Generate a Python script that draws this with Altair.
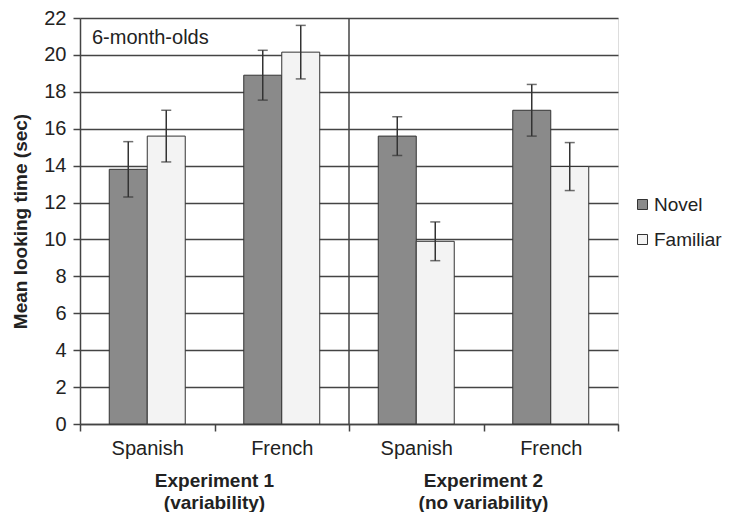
import altair as alt
import pandas as pd

# ---- data ----
categories = ["Spanish|1", "French|1", "Spanish|2", "French|2"]
novel = [13.8, 18.9, 15.6, 17.0]
familiar = [15.6, 20.15, 9.9, 13.95]
novel_err = [1.5, 1.35, 1.05, 1.4]
familiar_err = [1.4, 1.45, 1.05, 1.3]
series = ["Novel", "Familiar"]
group_labels = ["Experiment 1\n(variability)", "Experiment 2\n(no variability)"]
group_anchor = ["French|1", "French|2"]
y_ticks = list(range(0, 23, 2))

rows = []
for i, c in enumerate(categories):
    rows.append({"cat": c, "series": "Novel", "value": novel[i],
                 "lo": novel[i] - novel_err[i], "hi": novel[i] + novel_err[i]})
    rows.append({"cat": c, "series": "Familiar", "value": familiar[i],
                 "lo": familiar[i] - familiar_err[i], "hi": familiar[i] + familiar_err[i]})
df = pd.DataFrame(rows)

W, H = 538, 406
FONT = "Liberation Sans"
DARK = "#444444"
TXT = "#222222"

xscale = alt.Scale(domain=categories, paddingInner=0, paddingOuter=0)
xoff_scale = alt.Scale(domain=series, paddingInner=0, paddingOuter=0.77)
yscale = alt.Scale(domain=[0, 22], nice=False)

x_axis = alt.Axis(labelExpr="split(datum.label, '|')[0]", labelAngle=0,
                  tickBand="extent", tickSize=7, tickColor=DARK, tickWidth=1.5,
                  domainColor=DARK, domainWidth=1.5, labelFontSize=20,
                  labelFont=FONT, labelColor=TXT, labelPadding=7, grid=False)
y_axis = alt.Axis(values=y_ticks, tickSize=7, tickColor=DARK, tickWidth=1.5,
                  domainColor=DARK, domainWidth=1.5, gridColor=DARK,
                  gridWidth=1.3, labelFontSize=20, labelFont=FONT,
                  labelColor=TXT, labelPadding=7, labelOverlap=False,
                  titleFont=FONT, titleFontSize=19, titleFontWeight="bold",
                  titleColor=TXT, titlePadding=13)
YTITLE = "Mean looking time (sec)"


def xenc(**kw):
    return alt.X("cat:N", scale=xscale, sort=categories, title=None, axis=x_axis, **kw)


def yenc(field):
    return alt.Y(field, scale=yscale, title=YTITLE, axis=y_axis)


xoff = alt.XOffset("series:N", scale=xoff_scale, sort=series)

bars = alt.Chart(df).mark_bar(stroke="#333333", strokeWidth=1).encode(
    x=xenc(),
    xOffset=xoff,
    y=yenc("value:Q"),
    fill=alt.Fill("series:N", sort=series,
                  scale=alt.Scale(domain=series, range=["#8a8a8a", "#f3f3f3"]),
                  legend=alt.Legend(title=None, orient="none", legendX=553, legendY=177,
                                    symbolType="square", symbolSize=100,
                                    symbolStrokeColor="#333", symbolStrokeWidth=1,
                                    labelFontSize=19, labelFont=FONT, labelColor=TXT,
                                    rowPadding=15, labelOffset=2)),
)

err = alt.Chart(df).mark_rule(color="#333333", strokeWidth=1.5).encode(
    x=xenc(), xOffset=xoff, y=yenc("lo:Q"), y2="hi:Q",
)
cap_lo = alt.Chart(df).mark_tick(color="#333333", thickness=1.5, size=10, orient="horizontal").encode(
    x=xenc(), xOffset=xoff, y=yenc("lo:Q"),
)
cap_hi = alt.Chart(df).mark_tick(color="#333333", thickness=1.5, size=10, orient="horizontal").encode(
    x=xenc(), xOffset=xoff, y=yenc("hi:Q"),
)

divider = alt.Chart(pd.DataFrame({"cat": ["Spanish|2"]})).mark_rule(
    color=DARK, strokeWidth=1.5).encode(
    x=xenc(bandPosition=0),
    y=alt.value(0), y2=alt.value(H),
)

groups = alt.Chart(pd.DataFrame({"cat": group_anchor, "label": group_labels})).mark_text(
    font=FONT, fontSize=19, fontWeight="bold", color=TXT, baseline="top",
    lineBreak="\n", lineHeight=22, align="center").encode(
    x=xenc(bandPosition=0),
    y=alt.value(H + 48),
    text="label:N",
)

note = alt.Chart(pd.DataFrame({"t": ["6-month-olds"]})).mark_text(
    font=FONT, fontSize=20, color=TXT, align="left", baseline="middle").encode(
    x=alt.value(12), y=alt.value(20), text="t:N")

chart = alt.layer(bars, err, cap_lo, cap_hi, divider, groups, note).properties(
    width=W, height=H,
    autosize=alt.AutoSizeParams(type="none"),
    padding={"left": 72, "top": 10, "right": 106, "bottom": 88},
).configure_view(stroke=DARK, strokeWidth=1.5).configure(background="white")

chart.save("out.html", embed_options={"renderer": "svg", "actions": False})
